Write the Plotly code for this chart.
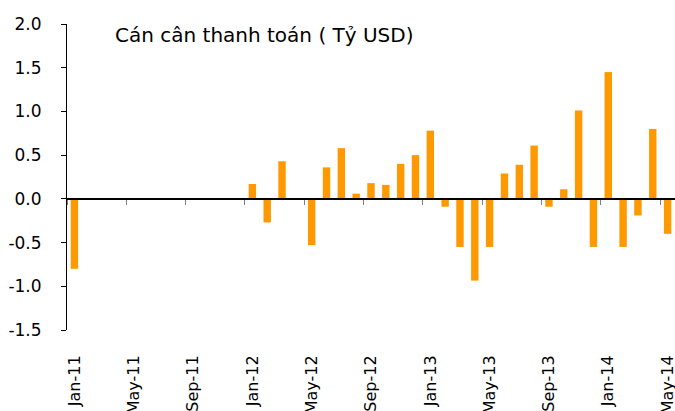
import plotly.graph_objects as go

months = ["Jan-11","Feb-11","Mar-11","Apr-11","May-11","Jun-11","Jul-11","Aug-11","Sep-11","Oct-11","Nov-11","Dec-11",
          "Jan-12","Feb-12","Mar-12","Apr-12","May-12","Jun-12","Jul-12","Aug-12","Sep-12","Oct-12","Nov-12","Dec-12",
          "Jan-13","Feb-13","Mar-13","Apr-13","May-13","Jun-13","Jul-13","Aug-13","Sep-13","Oct-13","Nov-13","Dec-13",
          "Jan-14","Feb-14","Mar-14","Apr-14","May-14"]
balance = [-0.80, None, None, None, None, None, None, None, None, None, None, None,
           0.17, -0.27, 0.43, 0.0, -0.53, 0.36, 0.58, 0.06, 0.18, 0.16, 0.40, 0.50,
           0.78, -0.09, -0.55, -0.935, -0.55, 0.29, 0.39, 0.61, -0.09, 0.11, 1.01, -0.55,
           1.45, -0.55, -0.19, 0.80, -0.40]
tick_labels = months[::4]
y_ticks = [-1.5, -1.0, -0.5, 0.0, 0.5, 1.0, 1.5, 2.0]
title_text = "Cán cân thanh toán ( Tỷ USD)"

FONT = "DejaVu Sans"
fig = go.Figure()
fig.add_trace(go.Bar(x=months, y=balance, marker=dict(color="#FF9900", line=dict(width=0)),
                     hoverinfo="x+y"))
# invisible trace for the zero-line tick axis
fig.add_trace(go.Scatter(x=months, y=[None]*len(months), xaxis="x2", showlegend=False, hoverinfo="skip"))

y_range = [-1.5, 2.0]
x_range = [-0.5, len(months) - 0.5]
zero_pos = (0 - y_range[0]) / (y_range[1] - y_range[0])

fig.update_layout(
    width=675, height=411,
    margin=dict(l=67, r=0, t=24, b=81, autoexpand=False),
    paper_bgcolor="white", plot_bgcolor="white",
    showlegend=False, bargap=0.5,
    font=dict(family=FONT, size=16, color="#000000"),
    xaxis=dict(type="category", categoryorder="array", categoryarray=months, range=x_range,
               tickmode="array", tickvals=tick_labels, ticktext=tick_labels,
               tickangle=-90, ticks="outside", ticklen=18, tickcolor="rgba(0,0,0,0)",
               showline=False, showgrid=False, zeroline=False, automargin=False,
               tickfont=dict(family=FONT, size=16)),
    xaxis2=dict(type="category", categoryorder="array", categoryarray=months, range=x_range,
                overlaying="x", anchor="free", position=zero_pos, automargin=False,
                tickmode="array", tickvals=tick_labels, tickson="boundaries",
                ticks="outside", ticklen=5, tickcolor="#808080", tickwidth=1,
                showticklabels=False, showline=True, linecolor="#000000", linewidth=1.5,
                showgrid=False, zeroline=False),
    yaxis=dict(range=y_range, tickvals=y_ticks, ticktext=[f"{v:.1f}" for v in y_ticks],
               showline=True, linecolor="#000000", linewidth=1, automargin=False,
               ticks="outside", ticklen=5, tickcolor="#000000",
               showgrid=False, zeroline=False, ticklabelstandoff=16,
               tickfont=dict(family=FONT, size=17)),
    annotations=[dict(text=title_text, xref="paper", yref="paper", x=0.0757, y=0.964,
                      xanchor="left", yanchor="middle", showarrow=False,
                      font=dict(family=FONT, size=20, color="#000000"))],
)
fig.write_html("out.html", config={"displayModeBar": False},
               post_script="document.body.style.margin='0px';document.body.style.overflow='hidden';")
